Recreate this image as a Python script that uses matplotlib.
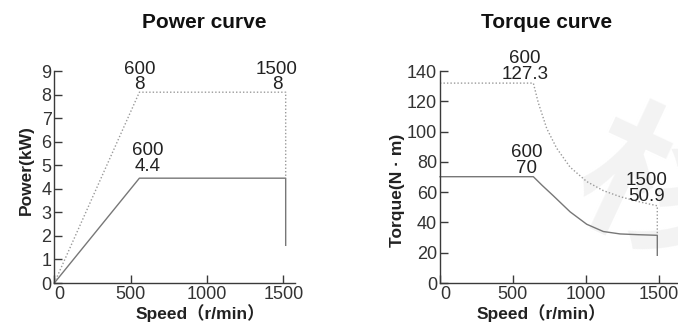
import matplotlib
matplotlib.use("Agg")
import matplotlib.pyplot as plt

plt.rcParams["font.family"] = ["Liberation Sans", "Noto Sans CJK SC", "DejaVu Sans"]

# power curve (speed r/min, power kW)
power_speed = [0, 557, 1515, 1515]
power_rated = [0, 4.45, 4.45, 1.6]
power_peak_speed = [0, 557, 1515, 1515]
power_peak = [0, 8.1, 8.1, 4.45]

# torque curve (speed r/min, torque N·m)
torque_speed = [0, 640, 700, 777, 892, 1006, 1120, 1235, 1360, 1490, 1490]
torque_rated = [70.2, 70.2, 64.5, 57.6, 47.0, 38.8, 34.0, 32.4, 31.9, 31.5, 18.3]
torque_peak_speed = [0, 640, 674, 732, 800, 892, 1006, 1120, 1235, 1372, 1490, 1490]
torque_peak = [132, 132, 119, 102, 89, 76.5, 67, 61, 57, 53.5, 51, 31.5]

power_labels = [(560, 8.05, "600\n8"), (1458, 8.05, "1500\n8"), (614, 4.58, "600\n4.4")]
torque_labels = [(583, 132, "600\n127.3"), (595, 70, "600\n70"), (1418, 51.4, "1500\n50.9")]

LINE = "#777777"
DOT = "#9a9a9a"
AXC = "#3a3a3a"
TXT = "#222222"

fig = plt.figure(figsize=(6.78, 3.26), dpi=100)

# faint watermark at the right edge, behind everything
fig.text(0.965, 0.40, "杉", fontsize=110, color="#f3f3f3", rotation=-25,
         ha="center", va="center", fontweight="bold", zorder=-5,
         family=["Noto Sans CJK SC"])

ax1 = fig.add_axes([0.0801, 0.1319, 0.355, 0.6503])
ax2 = fig.add_axes([0.649, 0.1319, 0.351, 0.6503])
for ax in (ax1, ax2):
    ax.patch.set_alpha(0)


def style_axis(axis, xmax, ymax, yticks):
    for side in ("top", "right"):
        axis.spines[side].set_visible(False)
    for side in ("left", "bottom"):
        axis.spines[side].set_color(AXC)
        axis.spines[side].set_linewidth(1.0)
    axis.set_xlim(0, xmax)
    axis.set_ylim(0, ymax)
    axis.set_xticks([0, 500, 1000, 1500])
    axis.set_yticks(yticks)
    axis.tick_params(direction="in", length=6, width=1.0, color=AXC,
                     labelsize=13, labelcolor="#333333", pad=2)
    # the "0" under the origin starts at the axis corner
    axis.get_xticklabels()[0].set_horizontalalignment("left")


style_axis(ax1, 1576, 9, range(0, 10))
ax1.plot(power_speed, power_rated, color=LINE, lw=1.0, clip_on=False)
ax1.plot(power_peak_speed, power_peak, color=DOT, lw=1.0, linestyle=(0, (1, 1.5)), clip_on=False)
for x, y, s in power_labels:
    ax1.text(x, y, s, ha="center", va="bottom", fontsize=13.5, color=TXT, linespacing=0.9)
ax1.set_ylabel("Power(kW)", fontsize=12.5, fontweight="bold", color=TXT)
ax1.yaxis.set_label_coords(34 / 678, 1 - 170 / 326, transform=fig.transFigure)
ax1.set_xlabel("Speed（r/min）", fontsize=12.5, fontweight="bold", color=TXT)
ax1.xaxis.set_label_coords(200 / 678, 1 - 304 / 326, transform=fig.transFigure)

style_axis(ax2, 1632, 140, range(0, 141, 20))
ax2.plot(torque_speed, torque_rated, color=LINE, lw=1.0, clip_on=False)
ax2.plot(torque_peak_speed, torque_peak, color=DOT, lw=1.0, linestyle=(0, (1, 1.5)), clip_on=False)
for x, y, s in torque_labels:
    ax2.text(x, y, s, ha="center", va="bottom", fontsize=13.5, color=TXT, linespacing=0.9)
ax2.set_ylabel("Torque(N · m)", fontsize=12.5, fontweight="bold", color=TXT)
ax2.yaxis.set_label_coords(405 / 678, 1 - 190 / 326, transform=fig.transFigure)
ax2.set_xlabel("Speed（r/min）", fontsize=12.5, fontweight="bold", color=TXT)
ax2.xaxis.set_label_coords(541 / 678, 1 - 304 / 326, transform=fig.transFigure)

fig.text(204 / 678, 1 - 22 / 326, "Power curve", ha="center", va="center",
         fontsize=15, fontweight="bold", color="#111111")
fig.text(547 / 678, 1 - 22 / 326, "Torque curve", ha="center", va="center",
         fontsize=15, fontweight="bold", color="#111111")

fig.savefig("out.png", dpi=100)
